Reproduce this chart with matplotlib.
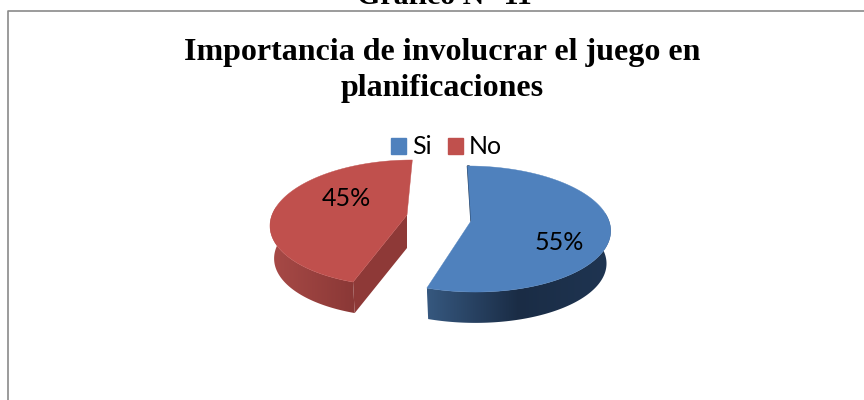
import numpy as np
import matplotlib
matplotlib.use("Agg")
import matplotlib.pyplot as plt
from matplotlib.patches import Patch, Polygon
from matplotlib.colors import LinearSegmentedColormap

categories = ["Si", "No"]
values = [55, 45]
labels = ["55%", "45%"]
colors = ["#4f81bd", "#c0504d"]
chart_title = ["Importancia de involucrar el juego en", "planificaciones"]
page_title = "Gráfico N° 11"

# pie geometry in pixels, one entry per slice
RX = [138, 135]
RY, K = 62, 0.127
SKEW = [4, -6]
DEPTH = 33
SHRINK = 0.97
centers = [(471, 221), (407, 215)]
label_pos = [(559, 242), (346, 198)]
wall_colors = [["#36587f", "#1a2c45", "#1f3552"], ["#a84a47", "#8a3836"]]
cut_colors = ["#1f3550", "#8e3937"]


def project(i, theta):
    # clockwise from the top, with a little perspective
    u, v = np.sin(theta), -np.cos(theta)
    d = 1 - K * v
    return centers[i][0] + (RX[i] * u + SKEW[i] * v) / d, centers[i][1] + RY * v / d


def lower(i, x, y):
    # rim of the underside, slightly smaller than the top
    cx, cy = centers[i]
    return cx + (x - cx) * SHRINK, cy + DEPTH + (y - cy) * SHRINK


fig = plt.figure(figsize=(8.64, 4.0), dpi=100)
ax = fig.add_axes([0, 0, 1, 1])
ax.axis("off")

fractions = np.array(values) / sum(values)
starts = np.concatenate([[0], np.cumsum(fractions)[:-1]]) * 2 * np.pi
ends = np.cumsum(fractions) * 2 * np.pi

for i in range(len(values)):
    cx, cy = centers[i]
    theta = np.linspace(starts[i], ends[i], 300)
    x, y = project(i, theta)
    xb, yb = lower(i, x, y)

    # outer wall, only the part facing the viewer, shaded across x
    front = np.cos(theta) < 0.13
    wall = np.c_[np.r_[x[front], xb[front][::-1]], np.r_[y[front], yb[front][::-1]]]
    cmap = LinearSegmentedColormap.from_list("wall%d" % i, wall_colors[i])
    img = ax.imshow(np.linspace(0, 1, 256).reshape(1, -1), cmap=cmap, aspect="auto", zorder=2,
                    extent=(wall[:, 0].min(), wall[:, 0].max(), wall[:, 1].max(), wall[:, 1].min()))
    clip = Polygon(wall, closed=True, transform=ax.transData, fill=False, lw=0)
    ax.add_patch(clip)
    img.set_clip_path(clip)

    # cut faces
    if i == 1:
        bx, by = lower(i, x[0], y[0])
        ax.fill([x[0], cx, cx, bx], [y[0], cy, cy + DEPTH, by], color=cut_colors[i], lw=0, zorder=3)
    else:
        ax.fill([x[0], cx, cx + 1.5, x[0] + 1.5], [y[0], cy, cy, y[0]], color=cut_colors[i], lw=1, zorder=1)

    # top surface
    ax.fill(np.r_[cx, x], np.r_[cy, y], color=colors[i], lw=0.3, zorder=4)

ax.set_xlim(0, 864)
ax.set_ylim(400, 0)

for i in range(len(labels)):
    ax.text(label_pos[i][0], label_pos[i][1], labels[i], ha="center", va="center", fontsize=18,
            family="Lato", color="black", zorder=5)

ax.text(444, 4, page_title, ha="center", va="baseline", fontsize=21.5, fontweight="bold",
        family="Liberation Serif", color="black")
ax.text(442, 60, chart_title[0], ha="center", va="baseline", fontsize=23, fontweight="bold",
        family="Liberation Serif", color="black")
ax.text(442, 96, chart_title[1], ha="center", va="baseline", fontsize=23, fontweight="bold",
        family="Liberation Serif", color="black")

handles = [Patch(color=c, label=n) for c, n in zip(colors, categories)]
ax.legend(handles=handles, loc="center", bbox_to_anchor=(446.5 / 864, 1 - 147 / 400), ncol=2, frameon=False,
          prop={"family": "Lato", "size": 18}, handlelength=0.6, handleheight=0.6,
          handletextpad=0.24, columnspacing=0.64, borderpad=0)

# chart frame
ax.plot([7.5, 7.5, 864], [400, 10.5, 10.5], color="#8a8a8a", lw=1.2, zorder=1, clip_on=False)

fig.savefig("out.png", dpi=100)
